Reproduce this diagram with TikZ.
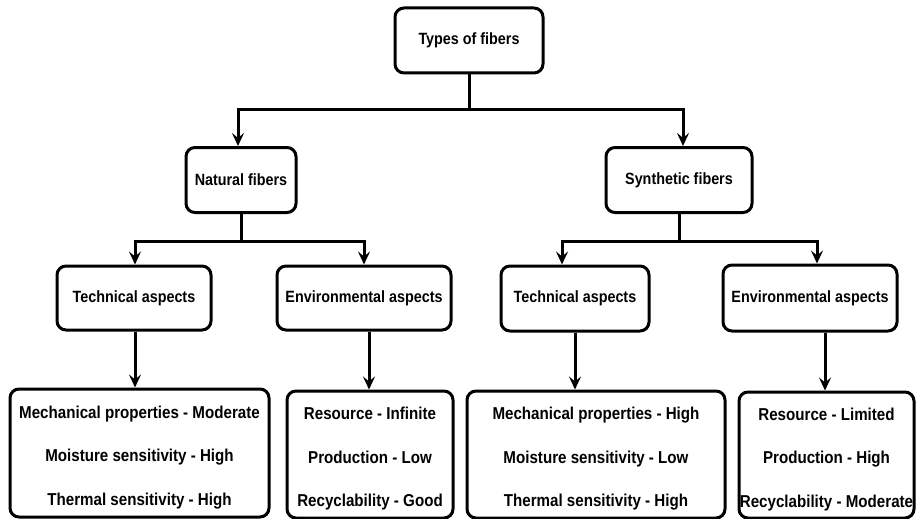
\documentclass[tikz,border=0pt]{standalone}
\usepackage{fontspec}
\setmainfont[FakeStretch=0.88]{Liberation Sans}
\usetikzlibrary{arrows.meta,calc}

% taller first line pushes a three-line list a little below the box centre
\newcommand{\liststrut}{\rule{0pt}{21pt}}

\begin{document}
\begin{tikzpicture}[x=1pt,y=-1pt,
  box/.style={draw=black, line width=3pt, rounded corners=9pt, fill=white,
    align=center, inner sep=0pt, font=\fontsize{16.3}{19}\selectfont\bfseries},
  listbox/.style={box, font=\fontsize{17.2}{43.5}\selectfont\bfseries},
  link/.style={draw=black, line width=3pt,
    -{Stealth[length=13pt,width=12pt,inset=5pt]}},
  plain/.style={draw=black, line width=3pt}
]
\useasboundingbox (0,0) rectangle (916,519);

% root
\node[box, minimum width=148pt, minimum height=65pt] (top) at (469,40.5) {Types of fibers};

% second level
\node[box, minimum width=110pt, minimum height=65pt] (nat) at (241,180) {Natural fibers};
\node[box, minimum width=146pt, minimum height=65pt] (syn) at (679,180) {Synthetic fibers};

% aspects
\node[box, minimum width=154pt, minimum height=64pt] (tl) at (134,298) {Technical aspects};
\node[box, minimum width=174pt, minimum height=64pt] (el) at (364,298) {Environmental aspects};
\node[box, minimum width=148pt, minimum height=65pt] (tr) at (575,298.5) {Technical aspects};
\node[box, minimum width=174pt, minimum height=66pt] (er) at (810,298) {Environmental aspects};

% property lists
\node[listbox, minimum width=259pt, minimum height=128pt] (bl) at (139.5,453)
  {\liststrut Mechanical properties - Moderate\\ Moisture sensitivity - High\\ Thermal sensitivity - High};
\node[listbox, minimum width=166pt, minimum height=127pt] (bel) at (370,454.5)
  {\liststrut Resource - Infinite\\ Production - Low\\ Recyclability - Good};
\node[listbox, minimum width=258pt, minimum height=127pt] (btr) at (596,454.5)
  {\liststrut Mechanical properties - High\\ Moisture sensitivity - Low\\ Thermal sensitivity - High};
\node[listbox, minimum width=175pt, minimum height=126pt] (ber) at (826.5,455)
  {\liststrut Resource - Limited\\ Production - High\\ Recyclability - Moderate};

% root to fibre types
\draw[plain] (top.south) -- ++(0,35) coordinate (jt);
\draw[link] (jt) -| ($(nat.north)+(-3,0)$);
\draw[link] (jt) -| ($(syn.north)+(4,0)$);

% natural fibres to aspects
\draw[plain] (nat.south) -- ++(0,27) coordinate (jn);
\draw[link] (jn) -| ($(tl.north)+(1,0)$);
\draw[link] (jn) -| (el.north);

% synthetic fibres to aspects
\draw[plain] (syn.south) -- ++(0,27) coordinate (js);
\draw[link] (js) -| ($(tr.north)+(-13,0)$);
\draw[link] (js) -| ($(er.north)+(7,0)$);

% aspects to property lists
\coordinate (tlo) at ($(tl.south)+(1,0)$);
\coordinate (elo) at ($(el.south)+(5,0)$);
\coordinate (ero) at ($(er.south)+(15,0)$);
\draw[link] (tlo) -- (tlo |- bl.north);
\draw[link] (elo) -- (elo |- bel.north);
\draw[link] (tr.south) -- (tr.south |- btr.north);
\draw[link] (ero) -- (ero |- ber.north);
\end{tikzpicture}
\end{document}
